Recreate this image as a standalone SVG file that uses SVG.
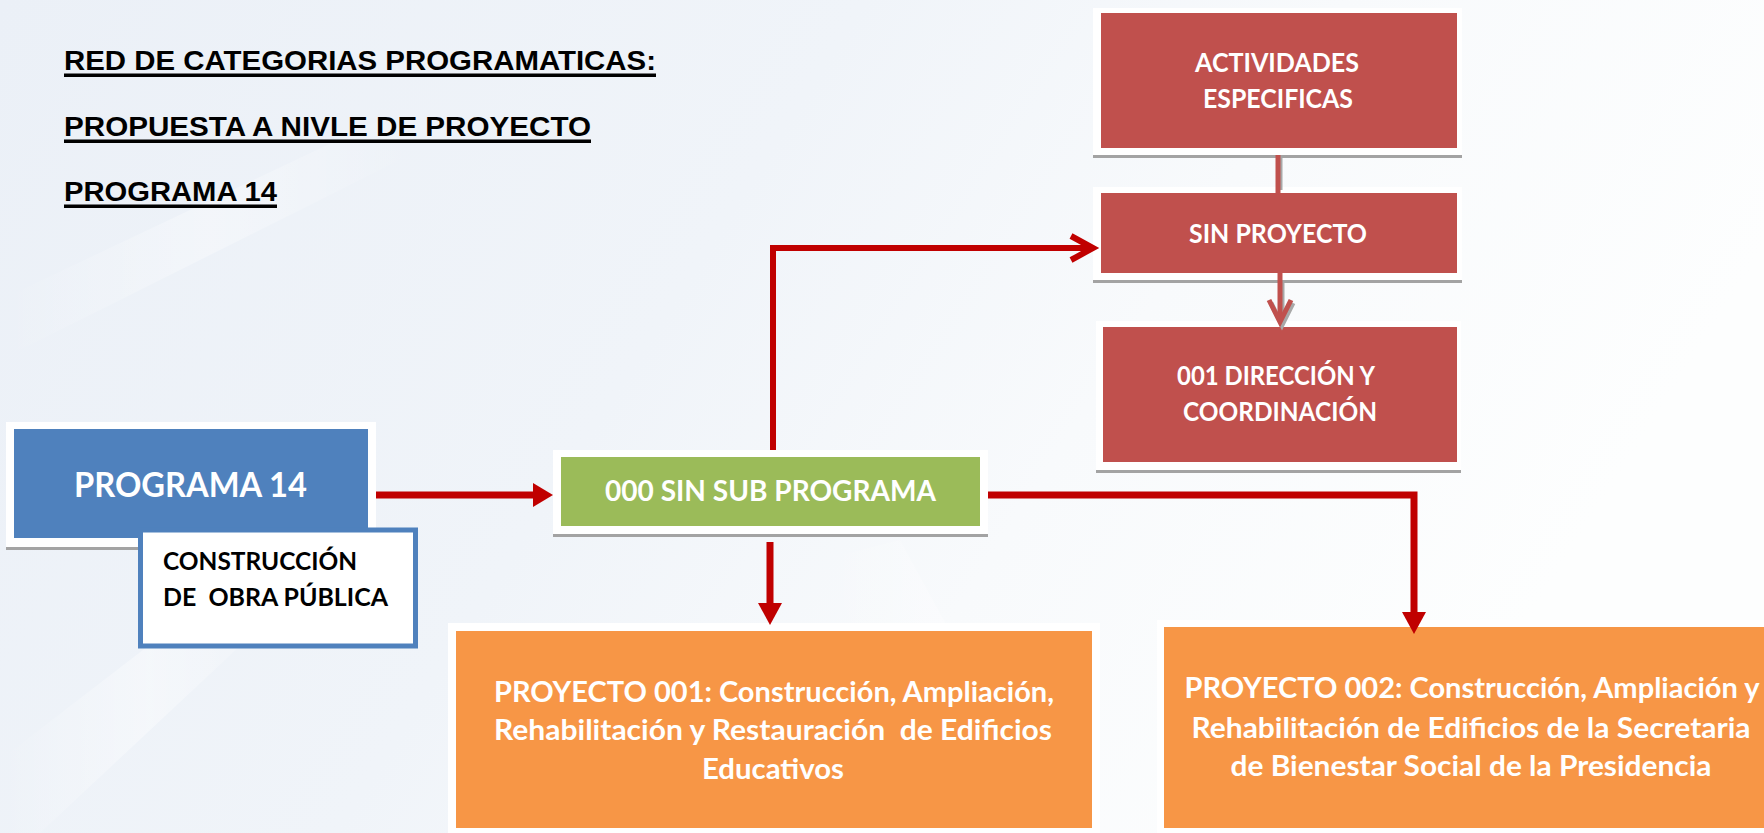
<svg xmlns="http://www.w3.org/2000/svg" width="1764" height="833" viewBox="0 0 1764 833">
  <defs>
    <linearGradient id="bg" x1="0" y1="0" x2="1" y2="0.3">
      <stop offset="0" stop-color="#EBF0F7"/>
      <stop offset="0.45" stop-color="#F0F4F9"/>
      <stop offset="0.7" stop-color="#F8FAFC"/>
      <stop offset="1" stop-color="#FDFEFE"/>
    </linearGradient>
    <linearGradient id="streak" x1="0" y1="0" x2="1" y2="0">
      <stop offset="0" stop-color="#FFFFFF" stop-opacity="0"/>
      <stop offset="0.5" stop-color="#FFFFFF" stop-opacity="0.55"/>
      <stop offset="1" stop-color="#FFFFFF" stop-opacity="0"/>
    </linearGradient>
    <style>
      .shadow { fill: #A3A3A3; }
      .frame { fill: #FFFFFF; }
      .blue { fill: #4F81BD; }
      .green { fill: #9BBB59; }
      .red { fill: #C0504D; }
      .orange { fill: #F79646; }
      .title { font-family: "Liberation Sans", Arial, sans-serif; font-weight: bold; font-size: 27px; fill: #000000; }
      .cal { font-family: Lato, "Open Sans", sans-serif; font-weight: bold; fill: #FFFFFF; }
      .dark { fill: #000000; }
      .conn { stroke: #C00000; fill: none; stroke-linejoin: miter; }
      .head { fill: #C00000; }
      .link { stroke: #C0504D; fill: none; stroke-width: 5; }
      .linkshadow { stroke: #A8A8A8; fill: none; stroke-width: 5; }
    </style>
  </defs>

  <!-- background -->
  <rect x="0" y="0" width="1764" height="833" fill="url(#bg)"/>
  <polygon points="0,300 380,120 420,150 0,360" fill="url(#streak)" opacity="0.6"/>
  <polygon points="0,760 260,560 300,590 40,833 0,833" fill="url(#streak)" opacity="0.7"/>
  <polygon points="820,560 900,540 1060,833 960,833" fill="url(#streak)" opacity="0.5"/>

  <!-- title -->
  <g id="title">
    <text class="title" x="64" y="70" textLength="592" lengthAdjust="spacingAndGlyphs">RED DE CATEGORIAS PROGRAMATICAS:</text>
    <rect x="64" y="73.5" width="592" height="3.5" fill="#000"/>
    <text class="title" x="64" y="136" textLength="527" lengthAdjust="spacingAndGlyphs">PROPUESTA A NIVLE DE PROYECTO</text>
    <rect x="64" y="139.5" width="527" height="3.5" fill="#000"/>
    <text class="title" x="64" y="201" textLength="213" lengthAdjust="spacingAndGlyphs">PROGRAMA 14</text>
    <rect x="64" y="204.5" width="213" height="3.5" fill="#000"/>
  </g>

  <!-- Programa 14 -->
  <g id="programa14">
    <rect class="shadow" x="6" y="425" width="370" height="125"/>
    <rect class="frame" x="6" y="422" width="370" height="125"/>
    <rect class="blue" x="14" y="429" width="354" height="109"/>
    <text class="cal" x="190.5" y="497" font-size="34" text-anchor="middle" textLength="233" lengthAdjust="spacingAndGlyphs">PROGRAMA 14</text>
  </g>

  <!-- Construccion de obra publica -->
  <g id="construccion">
    <rect x="140.5" y="530" width="275" height="116" fill="#FFFFFF" stroke="#4F81BD" stroke-width="5"/>
    <text class="cal dark" x="163" y="570" font-size="25" textLength="194" lengthAdjust="spacingAndGlyphs">CONSTRUCCIÓN</text>
    <text class="cal dark" x="163" y="606" font-size="25" textLength="225" lengthAdjust="spacingAndGlyphs" xml:space="preserve">DE  OBRA PÚBLICA</text>
  </g>

  <!-- 000 Sin sub programa -->
  <g id="sinsubprograma">
    <rect class="shadow" x="553" y="453" width="435" height="84"/>
    <rect class="frame" x="553" y="450" width="435" height="84"/>
    <rect class="green" x="561" y="457" width="419" height="69"/>
    <text class="cal" x="605" y="501" font-size="28" textLength="331" lengthAdjust="spacingAndGlyphs">000 SIN SUB PROGRAMA</text>
  </g>

  <!-- Actividades especificas -->
  <g id="actividades">
    <rect class="shadow" x="1093" y="11" width="369" height="147"/>
    <rect class="frame" x="1093" y="8" width="369" height="147"/>
    <rect class="red" x="1101" y="13" width="356" height="135"/>
    <text class="cal" x="1277" y="72" font-size="26" text-anchor="middle" textLength="164" lengthAdjust="spacingAndGlyphs">ACTIVIDADES</text>
    <text class="cal" x="1278" y="108" font-size="26" text-anchor="middle" textLength="150" lengthAdjust="spacingAndGlyphs">ESPECIFICAS</text>
  </g>

  <!-- Sin proyecto -->
  <g id="sinproyecto">
    <rect class="shadow" x="1093" y="190" width="369" height="93"/>
    <rect class="frame" x="1093" y="187" width="369" height="93"/>
    <rect class="red" x="1101" y="193" width="356" height="80"/>
    <text class="cal" x="1278" y="243" font-size="26" text-anchor="middle" textLength="178" lengthAdjust="spacingAndGlyphs">SIN PROYECTO</text>
  </g>

  <!-- 001 Direccion y coordinacion -->
  <g id="direccion">
    <rect class="shadow" x="1096" y="324" width="365" height="149"/>
    <rect class="frame" x="1096" y="321" width="365" height="149"/>
    <rect class="red" x="1103" y="327" width="354" height="135"/>
    <text class="cal" x="1276" y="385" font-size="26" text-anchor="middle" textLength="198" lengthAdjust="spacingAndGlyphs">001 DIRECCIÓN Y</text>
    <text class="cal" x="1280" y="421" font-size="26" text-anchor="middle" textLength="194" lengthAdjust="spacingAndGlyphs">COORDINACIÓN</text>
  </g>

  <!-- Proyecto 001 -->
  <g id="proyecto001">
    <rect class="frame" x="448" y="623" width="652" height="210"/>
    <rect class="orange" x="456" y="631" width="636" height="197"/>
    <text class="cal" x="774" y="702" font-size="29" text-anchor="middle" textLength="560" lengthAdjust="spacingAndGlyphs">PROYECTO 001: Construcción, Ampliación,</text>
    <text class="cal" x="773" y="740" font-size="29" text-anchor="middle" textLength="558" lengthAdjust="spacingAndGlyphs" xml:space="preserve">Rehabilitación y Restauración  de Edificios</text>
    <text class="cal" x="773" y="779" font-size="29" text-anchor="middle" textLength="142" lengthAdjust="spacingAndGlyphs">Educativos</text>
  </g>

  <!-- Proyecto 002 -->
  <g id="proyecto002">
    <rect class="frame" x="1157" y="620" width="607" height="213"/>
    <rect class="orange" x="1164" y="627" width="600" height="201"/>
    <text class="cal" x="1472" y="698" font-size="29" text-anchor="middle" textLength="575" lengthAdjust="spacingAndGlyphs">PROYECTO 002: Construcción, Ampliación y</text>
    <text class="cal" x="1471" y="738" font-size="29" text-anchor="middle" textLength="559" lengthAdjust="spacingAndGlyphs">Rehabilitación de Edificios de la Secretaria</text>
    <text class="cal" x="1471" y="776" font-size="29" text-anchor="middle" textLength="481" lengthAdjust="spacingAndGlyphs">de Bienestar Social de la Presidencia</text>
  </g>

  <!-- connectors -->
  <g id="connectors">
    <!-- Programa 14 -> 000 Sin sub programa -->
    <line class="conn" x1="376" y1="495" x2="536" y2="495" stroke-width="7"/>
    <polygon class="head" points="533,483 553,495 533,507"/>
    <!-- 000 -> Sin proyecto -->
    <polyline class="conn" points="773,450 773,248 1092,248" stroke-width="6"/>
    <polyline class="conn" points="1071,236 1093,248 1071,260" stroke-width="6"/>
    <!-- 000 -> Proyecto 001 -->
    <line class="conn" x1="770" y1="542" x2="770" y2="606" stroke-width="7"/>
    <polygon class="head" points="758,603 782,603 770,625"/>
    <!-- 000 -> Proyecto 002 -->
    <polyline class="conn" points="988,495 1414,495 1414,615" stroke-width="7"/>
    <polygon class="head" points="1402,612 1426,612 1414,634"/>
    <!-- Actividades -> Sin proyecto -->
    <line class="linkshadow" x1="1280" y1="158" x2="1280" y2="190"/>
    <line class="link" x1="1278" y1="155" x2="1278" y2="193"/>
    <!-- Sin proyecto -> 001 -->
    <line class="linkshadow" x1="1282" y1="283" x2="1282" y2="321"/>
    <polyline class="linkshadow" points="1271,303 1282,325 1293,303"/>
    <line class="link" x1="1280" y1="273" x2="1280" y2="321"/>
    <polyline class="link" points="1269,300 1280,322 1291,300"/>
  </g>
</svg>
